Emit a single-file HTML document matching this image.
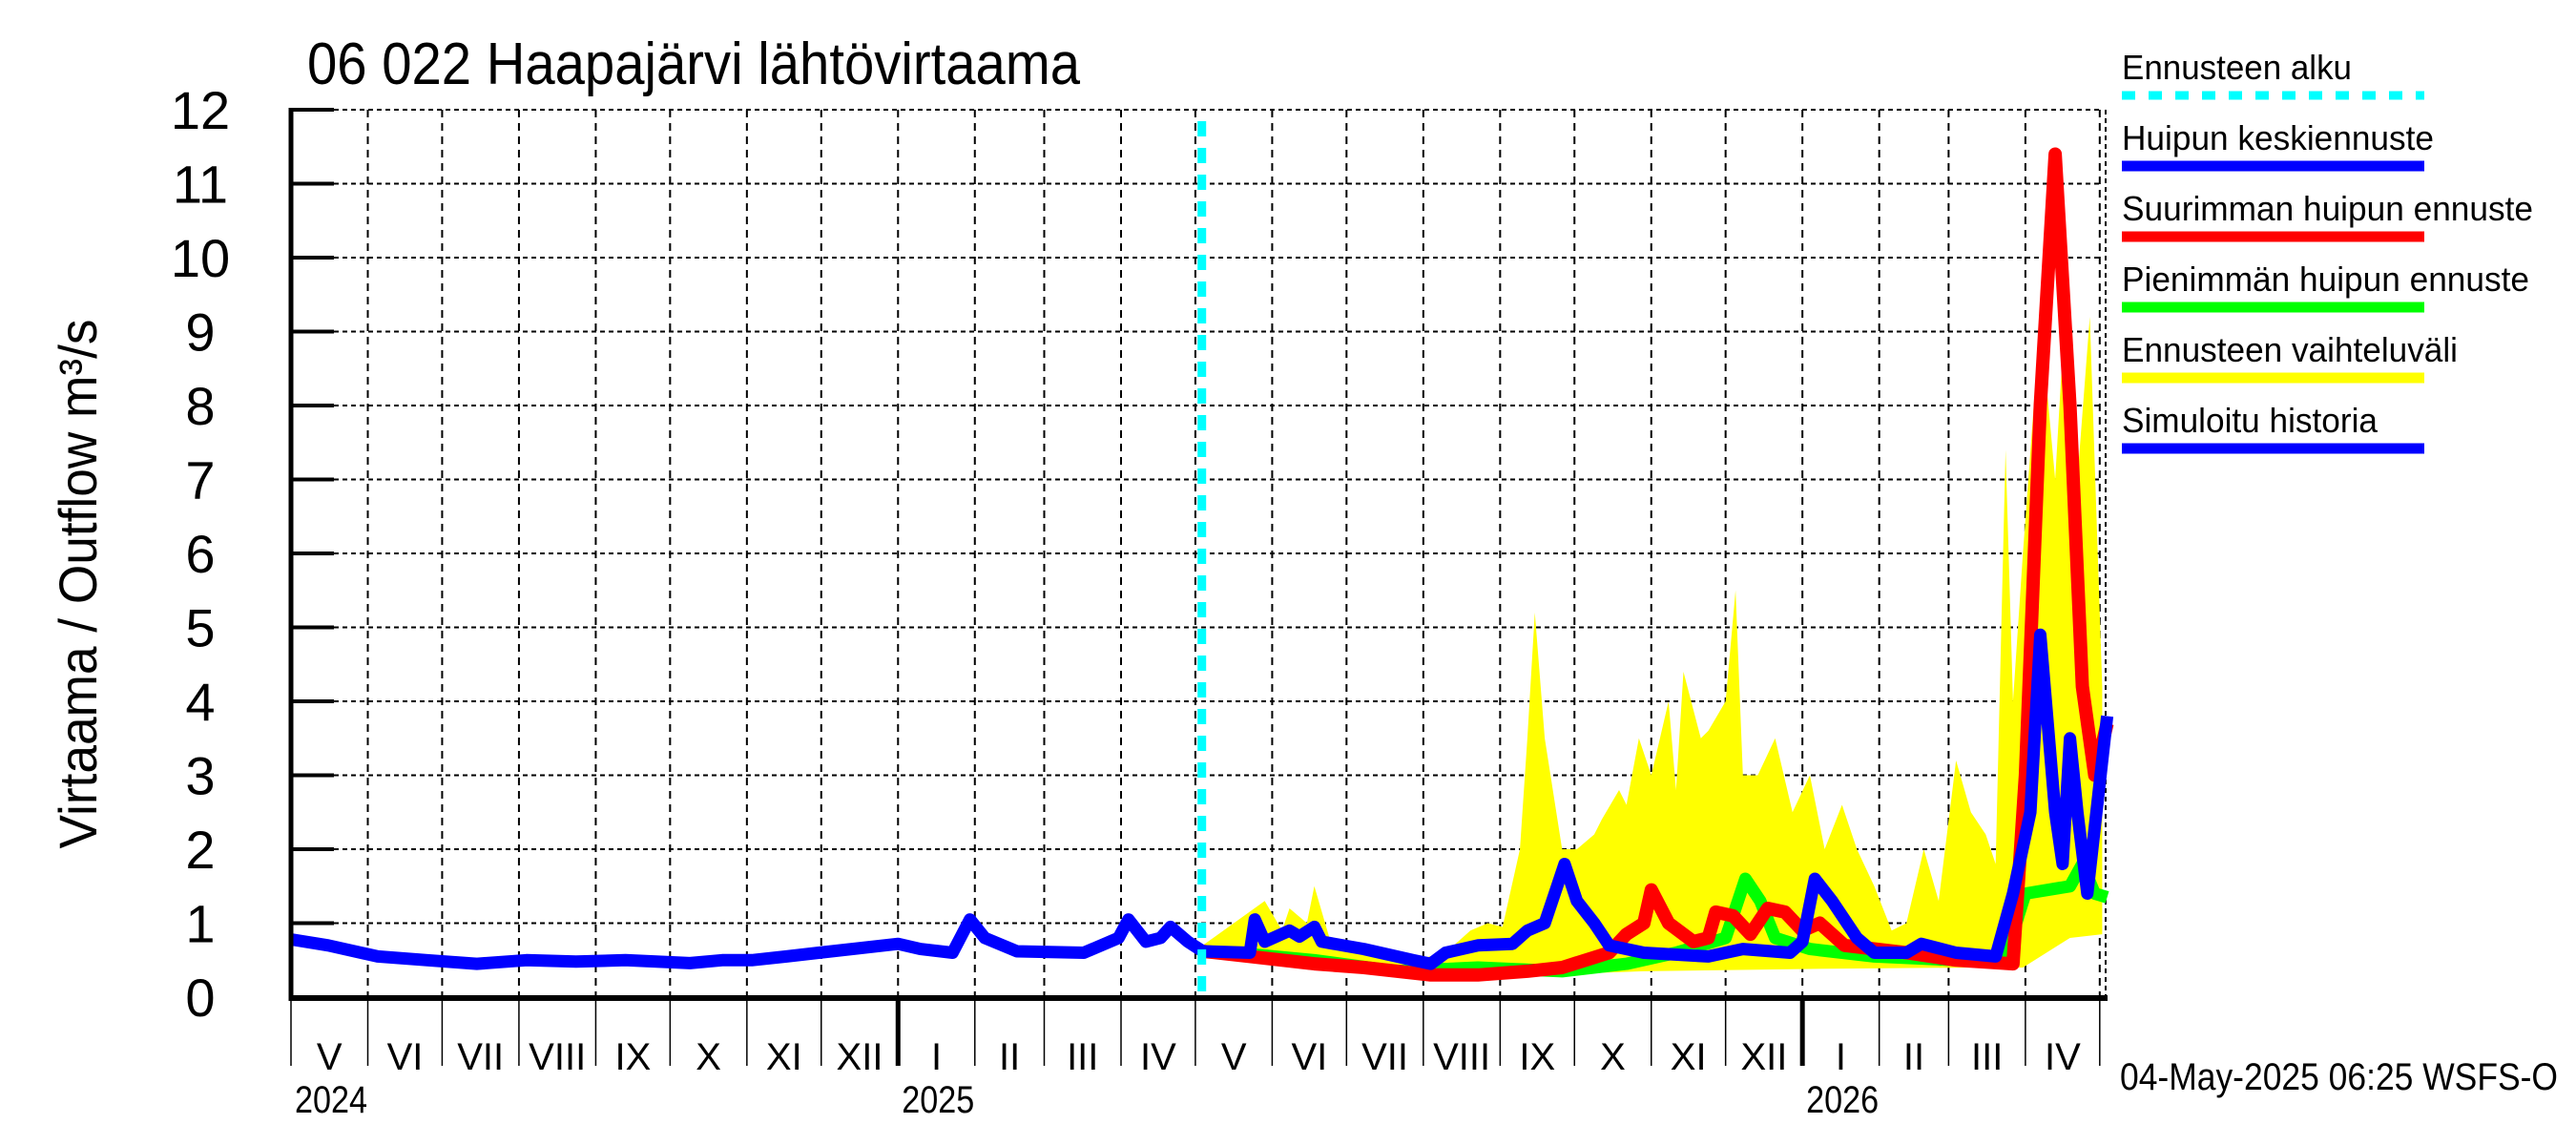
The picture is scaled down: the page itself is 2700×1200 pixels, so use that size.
<!DOCTYPE html>
<html><head><meta charset="utf-8"><title>Haapajärvi lähtövirtaama</title>
<style>
html,body{margin:0;padding:0;background:#fff;}
svg{display:block;font-family:"Liberation Sans",Arial,sans-serif;}
</style></head>
<body>
<svg id="chart" width="2700" height="1200" viewBox="0 0 2700 1200" xmlns="http://www.w3.org/2000/svg">
<rect x="0" y="0" width="2700" height="1200" fill="#fff"/>
<text x="322" y="88" font-size="62" textLength="810" lengthAdjust="spacingAndGlyphs">06 022 Haapajärvi lähtövirtaama</text>
<text transform="translate(101,612) rotate(-90)" text-anchor="middle" font-size="56" textLength="555" lengthAdjust="spacingAndGlyphs">Virtaama / Outflow    m³/s</text>
<g id="grid"></g>
<g id="series"></g>
<g id="axes"></g>
<g id="legend"></g>
<text x="2222" y="1142" font-size="40" textLength="459" lengthAdjust="spacingAndGlyphs">04-May-2025 06:25 WSFS-O</text>
</svg>
<script>
// ---- data (day offsets from 2024-05-01, values m3/s) ----
const yTicks = [0,1,2,3,4,5,6,7,8,9,10,11,12];
const monthLabels = ["V","VI","VII","VIII","IX","X","XI","XII","I","II","III","IV","V","VI","VII","VIII","IX","X","XI","XII","I","II","III","IV"];
const yearLabels = ["2024","2025","2026"];
const forecastStartDay = 368;
const histDays = [0,15,35,55,75,95,115,135,161,174,186,200,213,245,254,267,274,280,293,320,334,338,345,351,355,362,368];
const histVals = [0.78,0.7,0.55,0.5,0.45,0.5,0.48,0.5,0.46,0.5,0.5,0.55,0.6,0.72,0.65,0.6,1.05,0.8,0.62,0.6,0.8,1.05,0.75,0.8,0.95,0.75,0.62];
const meanDays = [368,387,389,393,403,407,413,416,433,453,460,466,479,493,499,506,509,514,519,526,532,546,572,586,605,610,615,622,632,639,652,658,672,688,695,702,706,712,715,718,721,725,733];
const meanVals = [0.62,0.6,1.05,0.75,0.9,0.82,0.95,0.75,0.65,0.5,0.45,0.6,0.7,0.72,0.9,1.0,1.3,1.8,1.3,1.0,0.7,0.6,0.55,0.65,0.6,0.75,1.6,1.3,0.8,0.6,0.6,0.72,0.6,0.55,1.4,2.5,4.9,2.5,1.8,3.5,2.5,1.4,3.8];
const maxDays = [368,387,413,433,460,479,499,513,532,539,546,549,556,566,572,575,582,589,596,603,610,617,627,652,672,695,700,706,712,718,723,728,733];
const maxVals = [0.62,0.55,0.45,0.4,0.3,0.3,0.35,0.4,0.6,0.85,1.0,1.45,1.0,0.75,0.8,1.15,1.1,0.85,1.2,1.15,0.9,1.0,0.7,0.6,0.5,0.45,3.0,8.0,11.4,8.0,4.2,3.0,3.7];
const minDays = [368,387,413,446,479,513,539,559,579,587,593,599,613,639,672,692,700,718,723,728,733];
const minVals = [0.62,0.58,0.5,0.35,0.4,0.35,0.45,0.6,0.8,1.6,1.3,0.8,0.65,0.55,0.5,0.55,1.4,1.5,1.8,1.4,1.35];
const bandDays = [368,393,400,403,410,413,420,433,453,466,476,483,489,496,499,502,506,513,519,526,529,536,539,544,549,556,559,562,569,572,579,583,586,592,599,606,613,619,626,632,639,646,652,659,665,672,678,684,688,692,695,699,706,712,716,721,726,731];
const bandHigh = [0.7,1.3,0.9,1.2,1.0,1.5,0.7,0.7,0.5,0.6,0.9,1.0,0.95,2.0,3.5,5.2,3.5,2.0,2.0,2.2,2.4,2.8,2.6,3.5,3.0,4.0,2.8,4.4,3.5,3.6,4.0,5.5,3.0,3.0,3.5,2.5,3.0,2.0,2.6,2.0,1.5,0.9,1.0,2.0,1.3,3.2,2.5,2.2,1.8,7.4,4.0,6.0,9.2,7.0,9.3,7.0,9.2,4.2];
const bandLowDays = [368,413,446,479,546,613,679,699,718,731];
const bandLow = [0.6,0.4,0.3,0.27,0.35,0.38,0.4,0.4,0.8,0.85];

// ---- scales ----
const X0=305, X1=2204, Y0=1045, Y12=115;
const PXD = 2.597;
const sx = d => X0 + d*PXD;
const sy = v => Y0 - v*(Y0-Y12)/12;
const NS="http://www.w3.org/2000/svg";
function mk(tag, parent){const e=document.createElementNS(NS,tag);parent.appendChild(e);return e;}
const grid=document.getElementById('grid'), series=document.getElementById('series'), axes=document.getElementById('axes'), legend=document.getElementById('legend');

const base=Date.UTC(2024,4,1);
const bounds=[];
for(let i=0;i<=25;i++){const d=Date.UTC(2024,4+i,1);bounds.push((d-base)/86400000);}

yTicks.forEach(v=>{
  if(v===0) return;
  const l=mk('line',grid);
  
  
  l.setAttribute('x1',X0);l.setAttribute('x2',X1);l.setAttribute('y1',sy(v));l.setAttribute('y2',sy(v));
  l.setAttribute('stroke','#000');l.setAttribute('stroke-width','2');l.setAttribute('stroke-dasharray','5,4');
});
bounds.forEach((b,i)=>{
  if(i===0) return;
  const x=sx(b); if(x>X1+2) return;
  const l=mk('line',grid);
  
  
  l.setAttribute('x1',x);l.setAttribute('x2',x);l.setAttribute('y1',Y12);l.setAttribute('y2',Y0);
  l.setAttribute('stroke','#000');l.setAttribute('stroke-width','2');l.setAttribute('stroke-dasharray','8,6');
});
{const l=mk('line',grid);


l.setAttribute('x1',X1+3);l.setAttribute('x2',X1+3);l.setAttribute('y1',Y12);l.setAttribute('y2',Y0);
l.setAttribute('stroke','#000');l.setAttribute('stroke-width','2');l.setAttribute('stroke-dasharray','5,4');}

function path(days, vals){return days.map((d,i)=>(i?'L':'M')+sx(d).toFixed(1)+','+sy(vals[i]).toFixed(1)).join(' ');}

{
  let dStr=path(bandDays,bandHigh);
  for(let i=bandLowDays.length-1;i>=0;i--) dStr+=' L'+sx(bandLowDays[i]).toFixed(1)+','+sy(bandLow[i]).toFixed(1);
  dStr+=' Z';
  const p=mk('path',series);
  
  
  p.setAttribute('d',dStr);p.setAttribute('fill','#ffff00');
}
function line(days,vals,color,w,name){
  const p=mk('path',series);
  
  
  p.setAttribute('d',path(days,vals));p.setAttribute('fill','none');p.setAttribute('stroke',color);
  p.setAttribute('stroke-width',w);p.setAttribute('stroke-linejoin','round');
}
line(minDays,minVals,'#00ff00',13,'min-peak-forecast-line');
line(maxDays,maxVals,'#ff0000',14,'max-peak-forecast-line');
line(meanDays,meanVals,'#0000ff',13,'mean-peak-forecast-line');
line(histDays,histVals,'#0000ff',13,'simulated-history-line');

{const l=mk('line',series);


const x=sx(forecastStartDay)-1;
l.setAttribute('x1',x);l.setAttribute('x2',x);l.setAttribute('y1',Y12+12);l.setAttribute('y2',Y0);
l.setAttribute('stroke','#00ffff');l.setAttribute('stroke-width','9');l.setAttribute('stroke-dasharray','16,12');}

function axLine(x1,y1,x2,y2,w,name){const l=mk('line',axes);


l.setAttribute('x1',x1);l.setAttribute('y1',y1);l.setAttribute('x2',x2);l.setAttribute('y2',y2);l.setAttribute('stroke','#000');l.setAttribute('stroke-width',w);}
axLine(X0,Y12-2,X0,Y0+4,5,'y-axis-line');
axLine(X0-2,Y0+1,X1+5,Y0+1,6,'x-axis-line');
yTicks.forEach(v=>{
  axLine(X0,sy(v),X0+45,sy(v),4,'y-tick');
  const t=mk('text',axes);
  
  
  t.setAttribute('x',210);t.setAttribute('y',sy(v)+20);t.setAttribute('text-anchor','middle');t.setAttribute('font-size','56');
  t.textContent=v;
});
bounds.forEach((b,i)=>{
  const x=sx(b); if(x>X1+2) return;
  const isYear = (i===8||i===20);
  axLine(x,Y0,x,1117,isYear?5:1.5,'x-month-separator');
  if(i<monthLabels.length){
    const nx=Math.min(sx(bounds[i+1]),X1+3);
    const t=mk('text',axes);
    
    
    t.setAttribute('x',(x+nx)/2);t.setAttribute('y',1121);t.setAttribute('text-anchor','middle');t.setAttribute('font-size','40');
    t.textContent=monthLabels[i];
  }
});
[0,8,20].forEach((bi,k)=>{
  const t=mk('text',axes);
  
  
  t.setAttribute('x',sx(bounds[bi])+4);t.setAttribute('y',1166);t.setAttribute('font-size','40');
  t.setAttribute('textLength','76');t.setAttribute('lengthAdjust','spacingAndGlyphs');
  t.textContent=yearLabels[k];
});

const legItems=[["Ennusteen alku","#00ffff",true,241],["Huipun keskiennuste","#0000ff",false,327],["Suurimman huipun ennuste","#ff0000",false,431],["Pienimmän huipun ennuste","#00ff00",false,427],["Ennusteen vaihteluväli","#ffff00",false,352],["Simuloitu historia","#0000ff",false,268]];
legItems.forEach((it,i)=>{
  const yb=83+i*74;
  const t=mk('text',legend);
  
  
  t.setAttribute('x',2224);t.setAttribute('y',yb);t.setAttribute('font-size','36');
  t.setAttribute('textLength',it[3]);t.setAttribute('lengthAdjust','spacingAndGlyphs');
  t.textContent=it[0];
  const l=mk('line',legend);
  
  
  l.setAttribute('x1',2224);l.setAttribute('x2',2541);l.setAttribute('y1',yb+17);l.setAttribute('y2',yb+17);
  l.setAttribute('stroke',it[1]);l.setAttribute('stroke-width',it[2]?9:11);
  if(it[2]) l.setAttribute('stroke-dasharray','14,14');
});
</script>
</body></html>
